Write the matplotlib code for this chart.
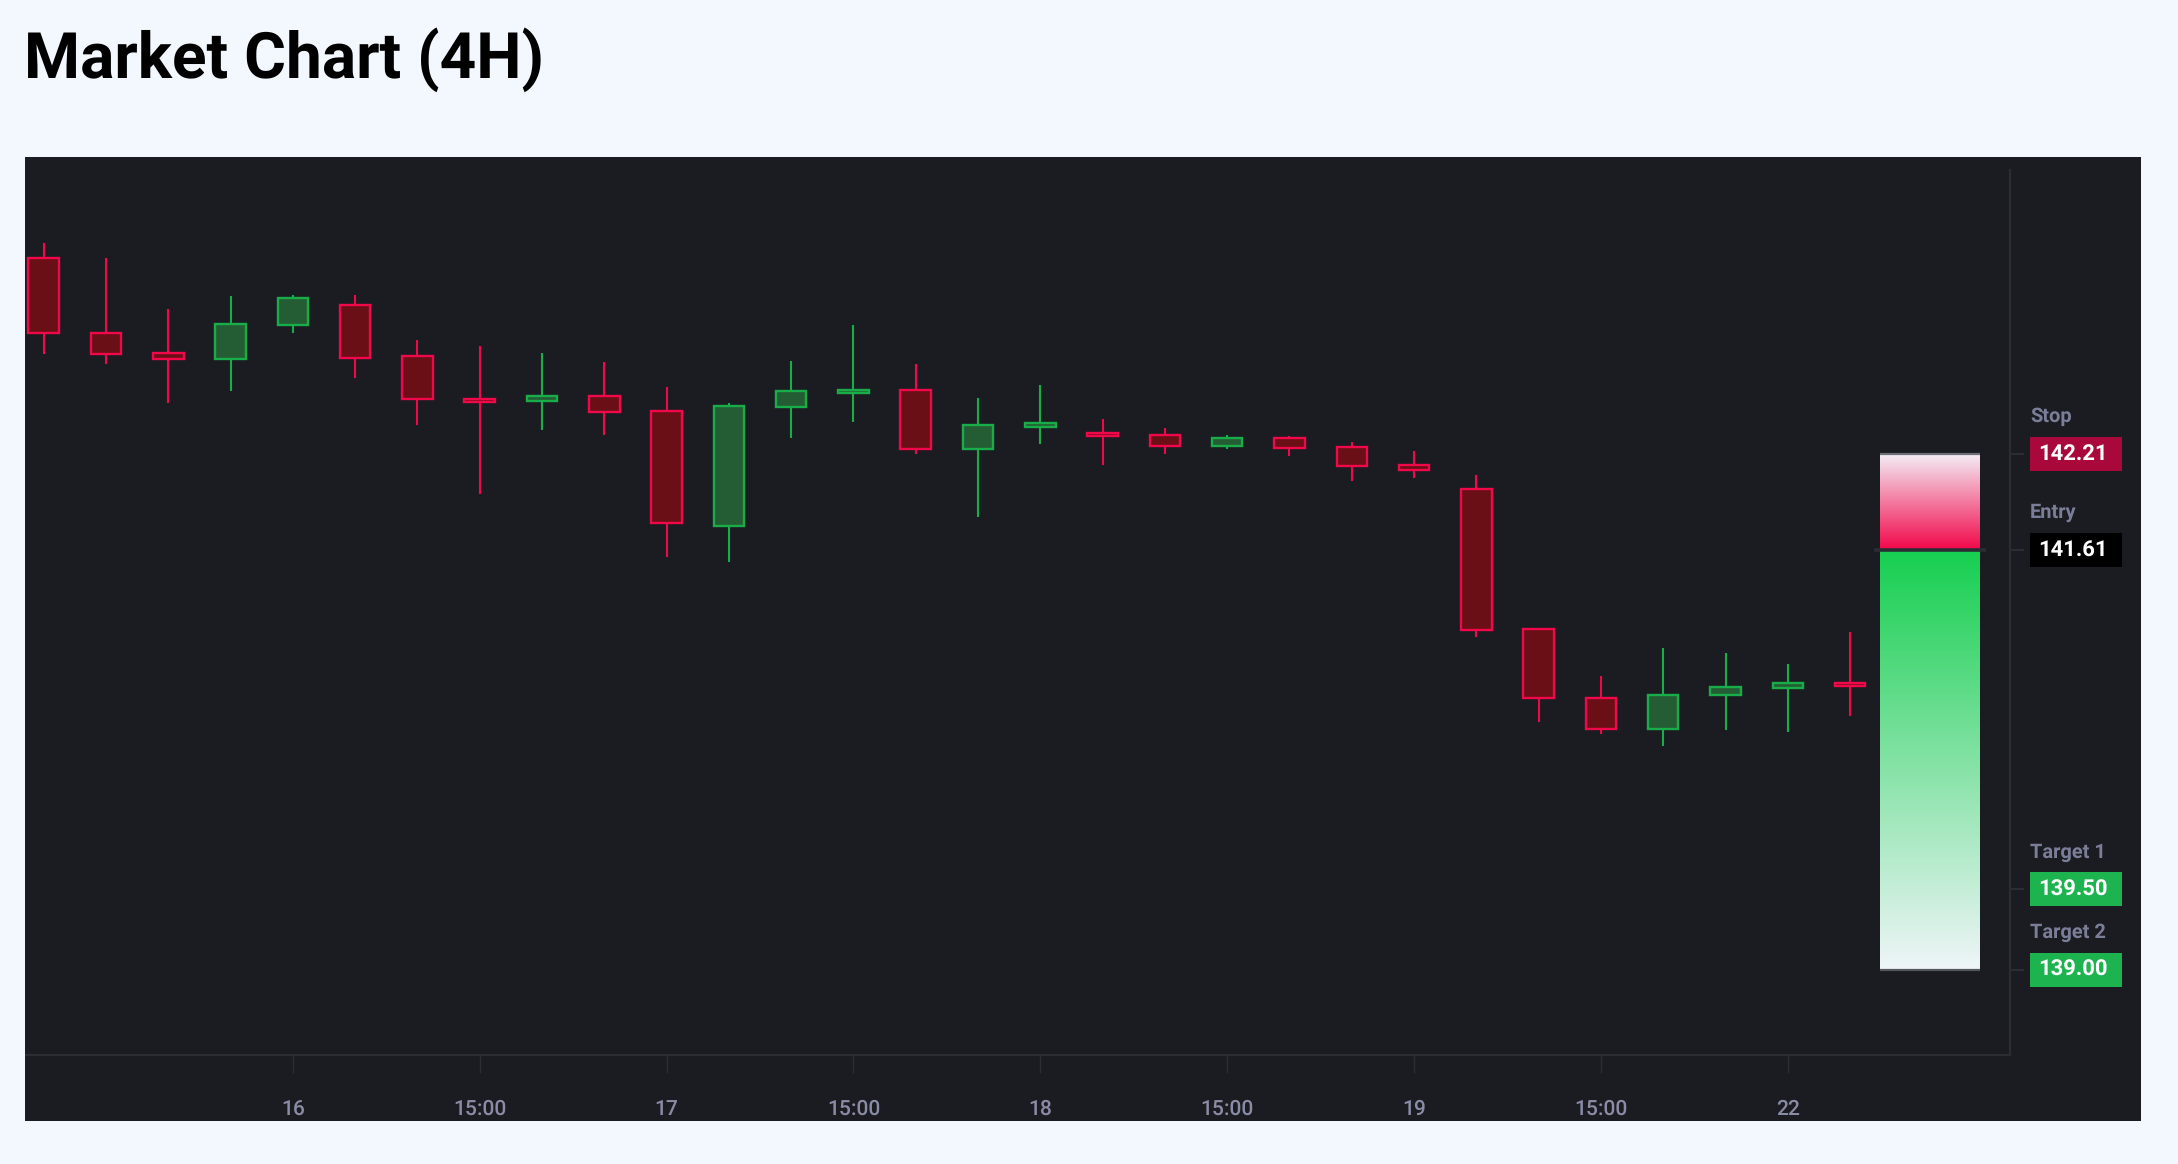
import numpy as np
import matplotlib.pyplot as plt
from matplotlib.patches import Rectangle
from matplotlib.colors import to_rgb

plt.rcParams['text.hinting'] = 'no_hinting'
plt.rcParams['text.hinting_factor'] = 1

# 4H candles, values
opens = [143.43, 142.965, 142.84, 142.80, 143.01, 143.14, 142.82, 142.55, 142.54, 142.57,
         142.48, 141.76, 142.50, 142.59, 142.61, 142.24, 142.38, 142.34, 142.33, 142.26,
         142.31, 142.255, 142.14, 141.99, 141.12, 140.69, 140.50, 140.71, 140.755, 140.785]
highs = [143.52, 143.43, 143.11, 143.19, 143.20, 143.20, 142.92, 142.88, 142.84, 142.78,
         142.625, 142.53, 142.79, 143.01, 142.77, 142.56, 142.64, 142.43, 142.37, 142.33,
         142.32, 142.285, 142.23, 142.08, 141.13, 140.83, 141.00, 140.97, 140.90, 141.10]
lows = [142.83, 142.77, 142.53, 142.60, 142.965, 142.68, 142.39, 141.96, 142.36, 142.33,
        141.57, 141.54, 142.31, 142.41, 142.21, 141.82, 142.27, 142.14, 142.21, 142.24,
        142.20, 142.04, 142.06, 141.07, 140.54, 140.47, 140.395, 140.49, 140.48, 140.58]
closes = [142.96, 142.83, 142.80, 143.02, 143.18, 142.81, 142.55, 142.535, 142.57, 142.47,
          141.78, 142.51, 142.60, 142.61, 142.24, 142.39, 142.40, 142.32, 142.26, 142.31,
          142.25, 142.135, 142.11, 141.115, 140.69, 140.50, 140.71, 140.76, 140.785, 140.765]

tick_pos = [4, 7, 10, 13, 16, 19, 22, 25, 28]
tick_labels = ["16", "15:00", "17", "15:00", "18", "15:00", "19", "15:00", "22"]

level_names = ["Stop", "Entry", "Target 1", "Target 2"]
level_values = [142.21, 141.61, 139.50, 139.00]

stop, entry, target2 = 142.21, 141.61, 139.00

# colours
page_bg = "#f3f7fe"
panel_bg = "#1b1c21"
line_col = "#2b2d35"
red_edge = "#f0084a"
red_fill = "#6a0f16"
green_edge = "#19ad49"
green_fill = "#245c33"
label_col = "#7b7e98"
level_box = ["#a8093a", "#000000", "#1db34f", "#1db34f"]
fam = ["Roboto", "DejaVu Sans"]

W, H = 2178, 1164
fig = plt.figure(figsize=(W / 100, H / 100), dpi=100, facecolor=page_bg)

# dark panel behind the chart
fig.patches.append(Rectangle((25 / W, (H - 1121) / H), (2141 - 25) / W, (1121 - 157) / H,
                             transform=fig.transFigure, facecolor=panel_bg, edgecolor="none", zorder=-10))

fig.text(24 / W, (H - 78) / H, "Market Chart (4H)", fontsize=46, fontweight="bold",
         family=fam, color="black", ha="left", va="baseline")

ax = fig.add_axes([25 / W, (H - 1055) / H, 1985 / W, 885 / H])
ax.set_facecolor("none")

x = np.arange(len(opens))
body_w = 0.49
for i in x:
    o, h, l, c = opens[i], highs[i], lows[i], closes[i]
    up = c >= o
    edge = green_edge if up else red_edge
    fill = green_fill if up else red_fill
    ax.vlines(i, l, h, color=edge, lw=1.5, zorder=2)
    bot = min(o, c)
    ht = max(abs(c - o), 0.012)
    ax.add_patch(Rectangle((i - body_w / 2, bot), body_w, ht, facecolor=fill,
                           edgecolor=edge, lw=1.7, zorder=3))

# position box with gradients
bx0, bx1 = 29.48, 31.085
n = 256
t = np.linspace(0, 1, n)[:, None, None]
r_top, r_bot = np.array(to_rgb("#f4eff7")), np.array(to_rgb("#f2074a"))
g_top, g_bot = np.array(to_rgb("#16cf50")), np.array(to_rgb("#eff5f8"))
red_grad = r_top * (1 - t) + r_bot * t
green_grad = g_top * (1 - t) + g_bot * t
ax.imshow(red_grad, extent=[bx0, bx1, entry, stop], aspect="auto", origin="upper", zorder=2)
ax.imshow(green_grad, extent=[bx0, bx1, target2, entry], aspect="auto", origin="upper", zorder=2)
ax.hlines(stop, bx0, bx1, color="#6c6e78", lw=1.6, zorder=4)
ax.hlines(target2, bx0, bx1, color="#55575f", lw=1.6, zorder=4)
ax.hlines(entry, 29.38, 31.18, color=line_col, lw=2.6, zorder=4)

ax.set_xlim(-0.30, 31.567)
ax.set_ylim(138.47, 143.977)

for s in ["top", "left"]:
    ax.spines[s].set_visible(False)
ax.spines["right"].set_color(line_col)
ax.spines["bottom"].set_color(line_col)
ax.spines["right"].set_linewidth(1.6)
ax.spines["bottom"].set_linewidth(1.6)
ax.spines["bottom"].set_capstyle("butt")

ax.set_xticks(tick_pos)
ax.set_xticklabels(tick_labels, family=fam, fontsize=15, fontweight="medium", color="#8a8ca6")
ax.tick_params(axis="x", length=13, width=1, color=line_col, pad=19)
ax.set_yticks(level_values)
ax.yaxis.tick_right()
ax.set_yticklabels([])
ax.tick_params(axis="y", length=10, width=1.6, color=line_col)

# level labels on the right
ytr = ax.get_yaxis_transform()
px_per_unit = 885 / (143.977 - 138.47)
box_h = 34 / px_per_unit
for name, val, col in zip(level_names, level_values, level_box):
    ax.add_patch(Rectangle(((2030 - 25) / 1985, val - box_h / 2), 92 / 1985, box_h,
                           transform=ytr, facecolor=col, edgecolor="none", clip_on=False, zorder=5))
    ax.text((2038 - 25) / 1985, val, f"{val:.2f}", transform=ytr, ha="left", va="center",
            fontsize=15.5, fontweight="bold", color="white", family=fam,
            clip_on=False, zorder=6)
    ax.annotate(name, xy=((2030 - 25) / 1985, val), xycoords=ytr, xytext=(0, 27),
                textcoords="offset points", ha="left", va="center", fontsize=14.5,
                fontweight="bold", color=label_col, family=fam)

fig.savefig("out.png", dpi=100, facecolor=page_bg)
